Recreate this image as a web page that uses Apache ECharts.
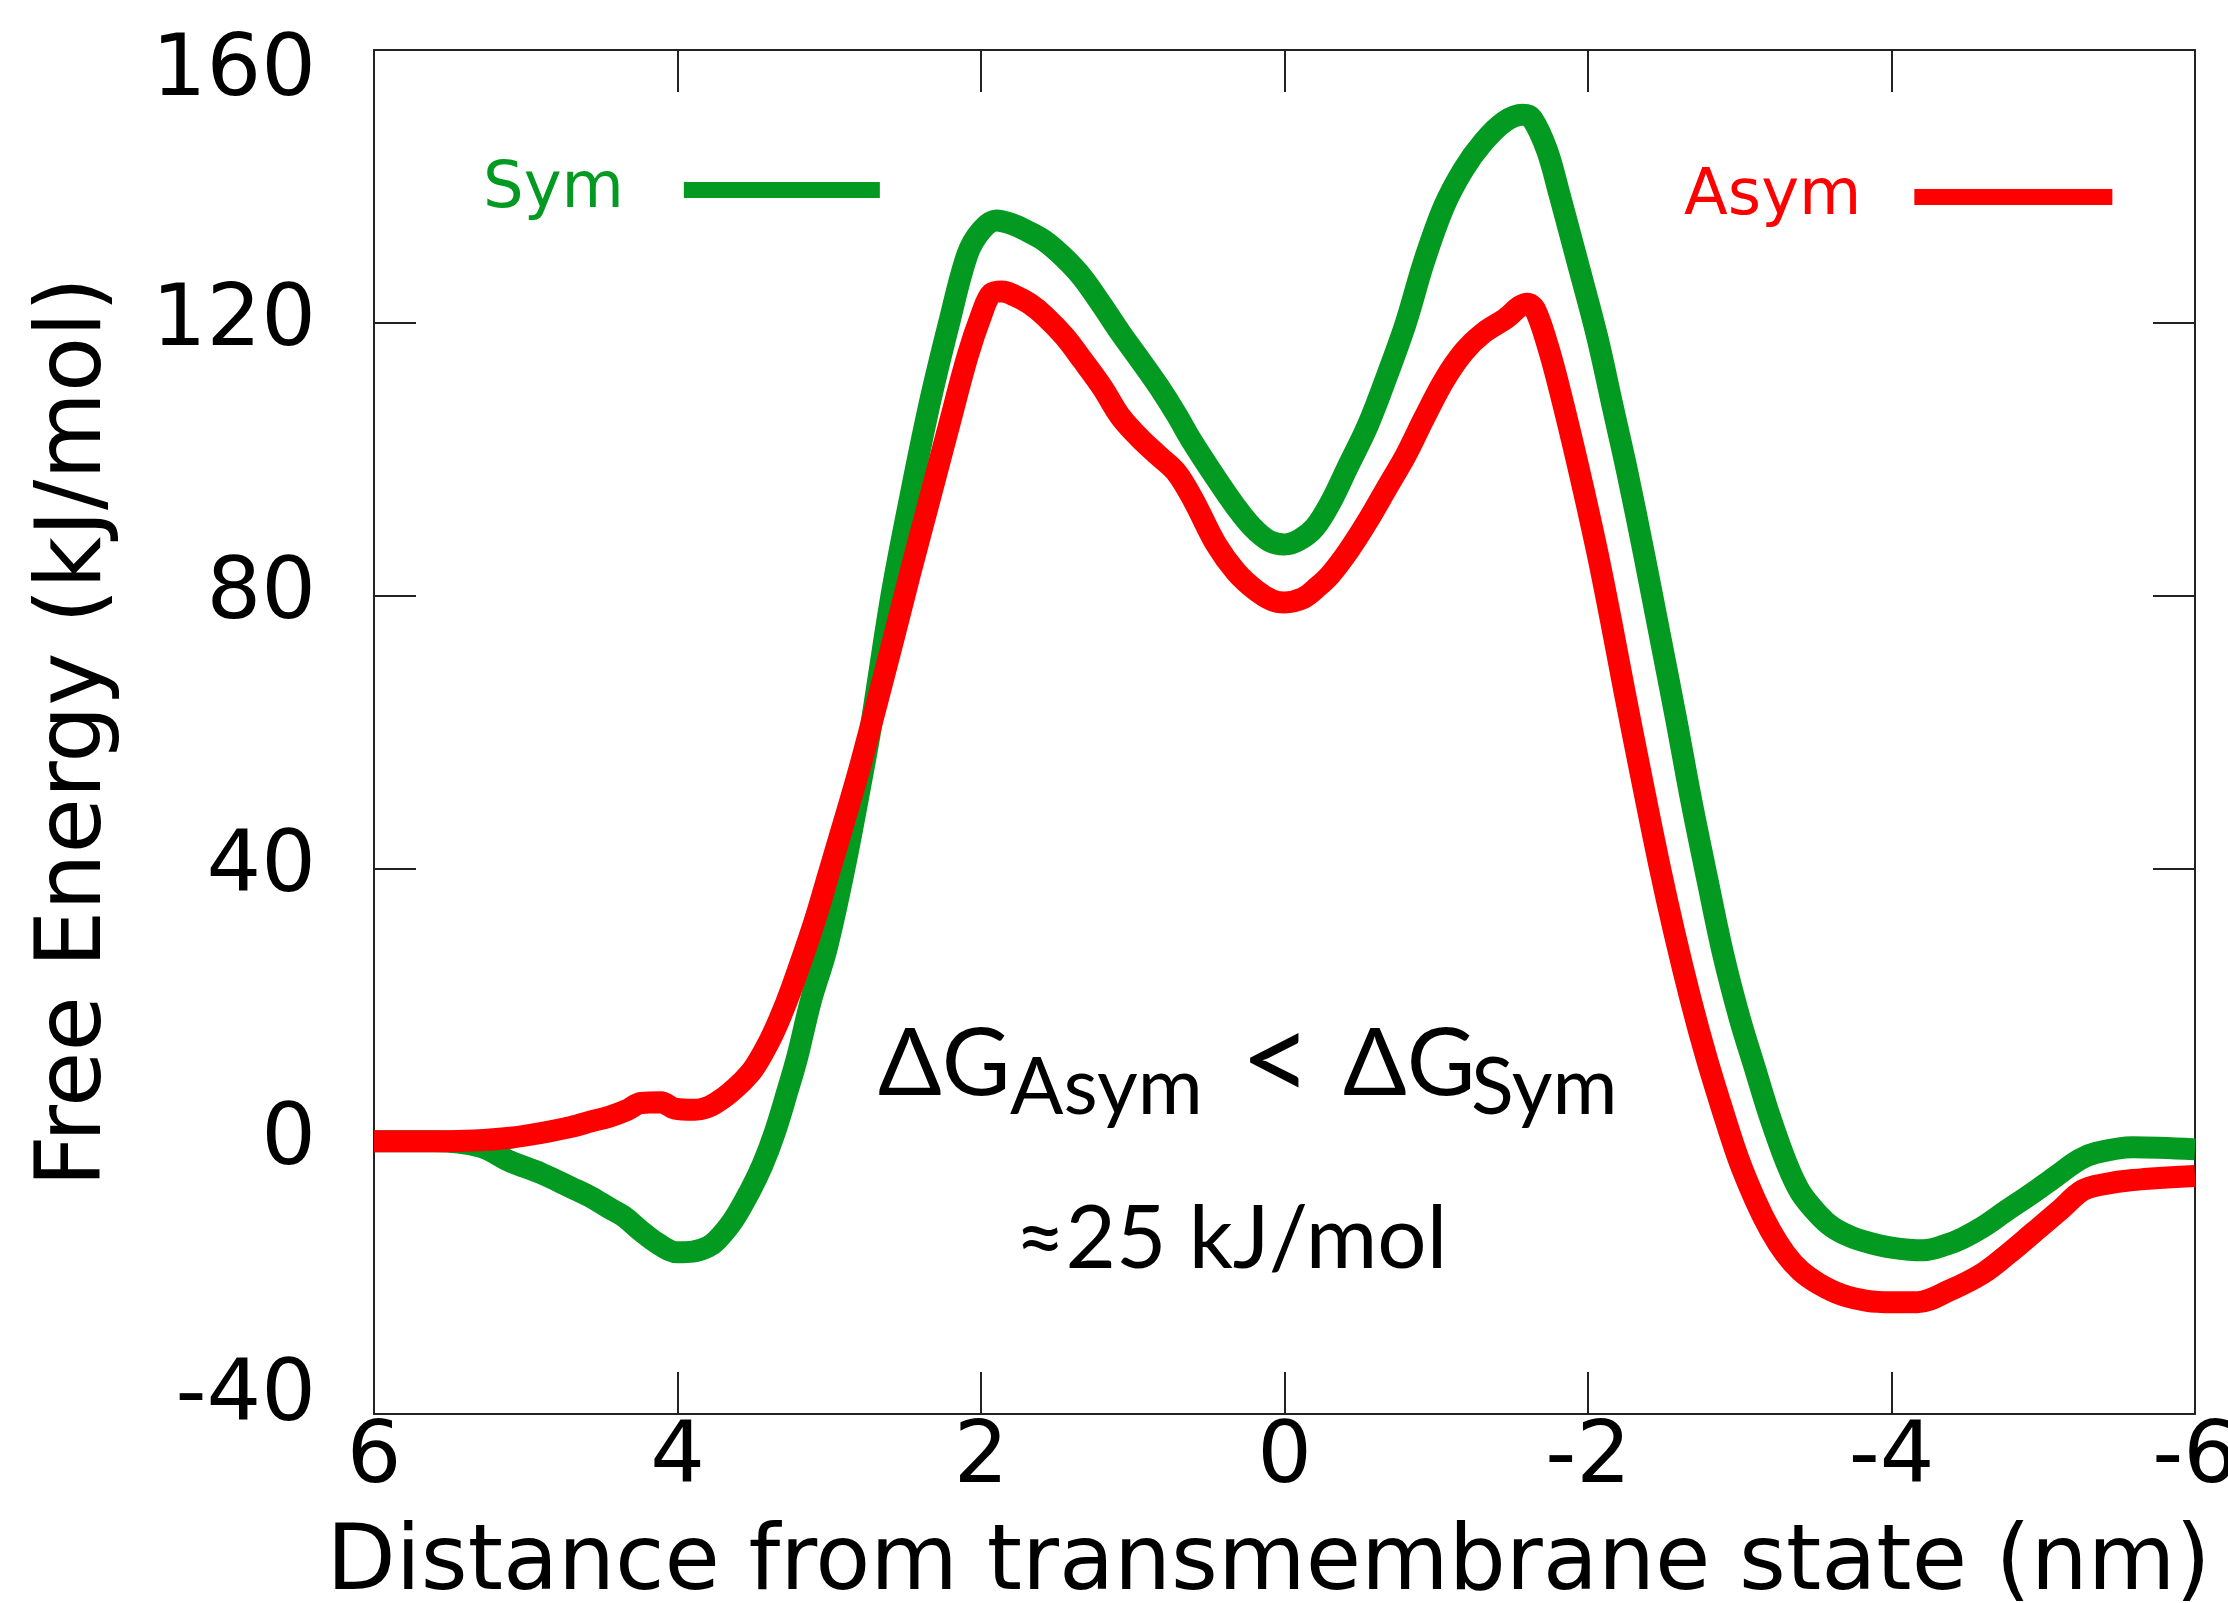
<!DOCTYPE html>
<html>
<head>
<meta charset="utf-8">
<script src="https://cdn.jsdelivr.net/npm/echarts@6/dist/echarts.min.js"></script>
<style>html,body{margin:0;padding:0;background:#fff;}#chart{width:2228px;height:1603px;}</style>
</head>
<body>
<div id="chart"></div>
<script>
// Distance from transmembrane state (nm) and free energy (kJ/mol)
const symX = [6.0, 5.6, 5.3, 5.1, 4.9, 4.7, 4.57, 4.45, 4.35, 4.25, 4.13, 4.0, 3.9, 3.8, 3.74, 3.63, 3.52, 3.44, 3.36, 3.28, 3.21, 3.12, 3.02, 2.9, 2.79, 2.72, 2.59, 2.47, 2.34, 2.21, 2.09, 2.0, 1.9, 1.8, 1.7, 1.58, 1.45, 1.33, 1.2, 1.08, 0.95, 0.83, 0.71, 0.62, 0.46, 0.32, 0.21, 0.1, 0.0, -0.1, -0.2, -0.3, -0.42, -0.55, -0.68, -0.8, -0.92, -1.05, -1.18, -1.31, -1.45, -1.57, -1.63, -1.73, -1.81, -1.93, -2.06, -2.16, -2.26, -2.37, -2.47, -2.58, -2.68, -2.79, -2.89, -3.0, -3.1, -3.2, -3.31, -3.4, -3.52, -3.61, -3.73, -3.84, -4.0, -4.21, -4.36, -4.47, -4.6, -4.75, -4.93, -5.08, -5.24, -5.35, -5.59, -6.0];
const symY = [0, 0, -0.8, -3, -4.7, -6.8, -8.2, -9.8, -11.1, -13, -15, -16.3, -16.2, -15.5, -14.5, -11.5, -7.2, -3.5, 1.2, 7, 12.4, 20.7, 28, 40, 52.8, 61.5, 80, 94, 108, 120, 130, 133.5, 135, 134.5, 133.5, 132, 129.5, 126.6, 122.5, 118.5, 114.5, 110.7, 106.5, 103, 97.5, 93, 90, 88, 87.5, 88.2, 90, 93.5, 99, 105, 112.5, 120, 129, 137, 142.5, 146.5, 149.5, 150.5, 150, 145.3, 139, 129, 118, 108, 98, 86, 74.6, 62, 50, 38, 27.5, 18, 10.7, 3.5, -3.3, -7.5, -10.8, -12.6, -14, -14.8, -15.6, -16, -15.2, -14.2, -12.6, -10.3, -7.6, -5.2, -2.7, -1.7, -0.9, -1.2];

const asymX = [6.0, 5.6, 5.34, 5.1, 4.9, 4.7, 4.57, 4.45, 4.33, 4.24, 4.11, 4.02, 3.89, 3.8, 3.74, 3.66, 3.58, 3.5, 3.41, 3.33, 3.25, 3.1, 3.0, 2.9, 2.79, 2.59, 2.47, 2.34, 2.21, 2.09, 2.0, 1.93, 1.86, 1.78, 1.68, 1.58, 1.45, 1.33, 1.2, 1.08, 0.95, 0.83, 0.71, 0.6, 0.45, 0.32, 0.19, 0.08, 0.0, -0.12, -0.22, -0.3, -0.42, -0.55, -0.68, -0.8, -0.92, -1.05, -1.18, -1.31, -1.45, -1.6, -1.65, -1.73, -1.81, -1.94, -2.06, -2.15, -2.24, -2.36, -2.47, -2.57, -2.68, -2.78, -2.88, -2.99, -3.1, -3.2, -3.3, -3.4, -3.52, -3.67, -3.84, -4.0, -4.17, -4.39, -4.6, -4.77, -4.93, -5.1, -5.26, -5.4, -5.59, -6.0];
const asymY = [0, 0, 0.1, 0.5, 1.2, 2.1, 2.9, 3.6, 4.6, 5.6, 5.7, 4.8, 4.6, 5, 5.7, 7, 8.6, 10.6, 14, 17.8, 22.3, 32, 39.5, 47, 55.5, 72.5, 83, 94, 105, 115, 121, 124.3, 124.6, 124, 122.8, 121, 118, 114.5, 110.5, 106.2, 103, 100.5, 98, 94, 87.5, 83.5, 80.8, 79.3, 79, 79.6, 81.3, 83, 86.5, 91, 96, 100.6, 106, 111.5, 115.7, 118.5, 120.5, 122.8, 122, 117, 110.5, 98.5, 86.5, 76.5, 66, 52.5, 40.5, 30.5, 20.5, 12.3, 5, -2.5, -8.5, -13, -16.5, -19, -20.9, -22.5, -23.4, -23.6, -23.6, -21.8, -19.4, -16.5, -13.5, -10.3, -7.2, -6.3, -5.7, -5.1];

const seriesNames = ['Sym', 'Asym'];
const seriesColors = ['#029A21', '#FF0000'];
const xTitle = 'Distance from transmembrane state (nm)';
const yTitle = 'Free Energy (kJ/mol)';

const symData = symX.map((x, i) => [x, symY[i]]);
const asymData = asymX.map((x, i) => [x, asymY[i]]);

const AX = '#222';
const tickFont = 'DejaVu Sans';

function xAx(pos, show) {
  return {
    type: 'value', position: pos, min: -6, max: 6, interval: 2, inverse: true,
    axisLine: {show: true, onZero: false, lineStyle: {color: AX, width: 2}},
    axisTick: {show: true, inside: true, length: 42, lineStyle: {color: AX, width: 2}},
    axisLabel: {show: show, color: '#000', fontSize: 86, fontFamily: tickFont, margin: 3},
    splitLine: {show: false},
    name: show ? xTitle : '', nameLocation: 'middle', nameGap: 107,
    nameTextStyle: {color: '#000', fontSize: 90, fontFamily: tickFont, padding: [0, 32, 0, 0]}
  };
}
function yAx(pos, show) {
  return {
    type: 'value', position: pos, min: -40, max: 160, interval: 40,
    axisLine: {show: true, onZero: false, lineStyle: {color: AX, width: 2}},
    axisTick: {show: true, inside: true, length: 42, lineStyle: {color: AX, width: 2}},
    axisLabel: {
      show: show, color: '#000', fontSize: 86, fontFamily: tickFont, margin: 58,
      formatter: function (v) {
        if (v === 160) return '{hi|' + v + '}';
        if (v === -40) return '{lo|' + v + '}';
        return String(v);
      },
      rich: {
        hi: {fontSize: 86, fontFamily: tickFont, color: '#000', padding: [46, 0, 0, 0]},
        lo: {fontSize: 86, fontFamily: tickFont, color: '#000', padding: [0, 0, 32, 0]}
      }
    },
    splitLine: {show: false},
    name: show ? yTitle : '', nameLocation: 'middle', nameGap: 252, nameRotate: 90,
    nameTextStyle: {color: '#000', fontSize: 90, fontFamily: tickFont}
  };
}

const legendCommon = {
  orient: 'horizontal', align: 'right', icon: 'rect', itemHeight: 16,
  padding: 0, selectedMode: false
};

const annoFont = 'Lato';
const option = {
  backgroundColor: '#fff',
  animation: false,
  grid: {left: 374, right: 33, top: 50, bottom: 189, containLabel: false, outerBoundsMode: 'none'},
  xAxis: [xAx('bottom', true), xAx('top', false)],
  yAxis: [yAx('left', true), yAx('right', false)],
  legend: [
    Object.assign({}, legendCommon, {
      data: [seriesNames[0]], left: 483, top: 158, itemWidth: 196,
      textStyle: {color: seriesColors[0], fontSize: 64, fontFamily: tickFont, padding: [0, 55, 0, 0]}
    }),
    Object.assign({}, legendCommon, {
      data: [seriesNames[1]], left: 1684, top: 165, itemWidth: 198,
      textStyle: {color: seriesColors[1], fontSize: 64, fontFamily: tickFont, padding: [0, 48, 0, 0]}
    })
  ],
  series: [
    {name: seriesNames[0], type: 'line', data: symData, xAxisIndex: 0, yAxisIndex: 0,
     showSymbol: false, smooth: 0.35, color: seriesColors[0],
     lineStyle: {width: 22, color: seriesColors[0], join: 'round'}},
    {name: seriesNames[1], type: 'line', data: asymData, xAxisIndex: 0, yAxisIndex: 0,
     showSymbol: false, smooth: 0.35, color: seriesColors[1],
     lineStyle: {width: 22, color: seriesColors[1], join: 'round'}}
  ],
  graphic: [
    {type: 'text', x: 878, y: 1065, style: {text: 'ΔG', fontSize: 94, fontFamily: annoFont, fill: '#000', align: 'left', verticalAlign: 'middle'}},
    {type: 'text', x: 1010, y: 1089, style: {text: 'Asym', fontSize: 79, fontFamily: annoFont, fill: '#000', align: 'left', verticalAlign: 'middle'}},
    {type: 'text', x: 1240, y: 1062, style: {text: '<', fontSize: 125, fontFamily: annoFont, fill: '#000', align: 'left', verticalAlign: 'middle'}},
    {type: 'text', x: 1343, y: 1065, style: {text: 'ΔG', fontSize: 94, fontFamily: annoFont, fill: '#000', align: 'left', verticalAlign: 'middle'}},
    {type: 'text', x: 1471, y: 1089, style: {text: 'Sym', fontSize: 79, fontFamily: annoFont, fill: '#000', align: 'left', verticalAlign: 'middle'}},
    {type: 'text', x: 1015, y: 1240, style: {text: '≈25 kJ/mol', fontSize: 87, fontFamily: annoFont, fill: '#000', align: 'left', verticalAlign: 'middle'}}
  ]
};

const chart = echarts.init(document.getElementById('chart'), null, {renderer: 'canvas'});
chart.setOption(option);
</script>
</body>
</html>
